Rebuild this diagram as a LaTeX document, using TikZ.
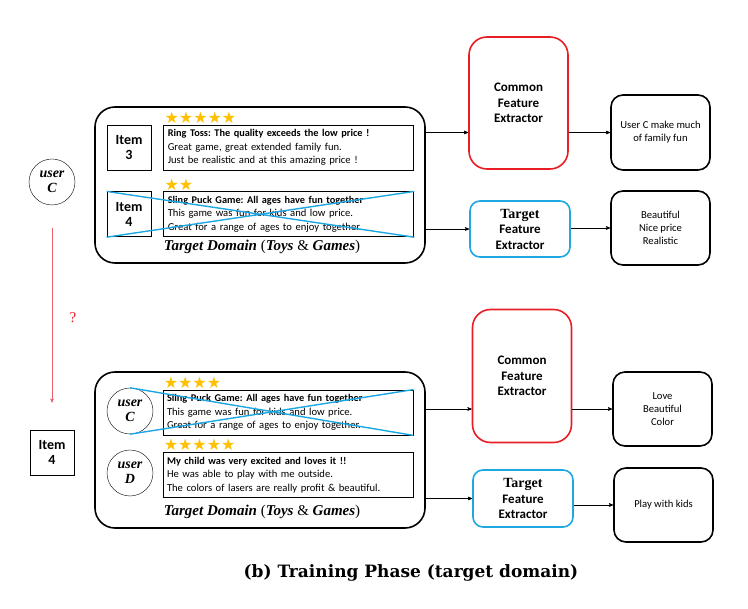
\documentclass[tikz,border=0pt]{standalone}
\usepackage{fontspec}
\newfontfamily\revfont{Carlito}
\newfontfamily\starfont{DejaVu Sans}
\newfontfamily\domfont{Liberation Serif}
\newfontfamily\capfont{DejaVu Serif}
\frenchspacing
\usetikzlibrary{positioning}
\usetikzlibrary{arrows}
\definecolor{starcol}{RGB}{255,192,0}
\definecolor{crosscol}{RGB}{28,166,226}
\definecolor{cfered}{RGB}{232,30,36}
\definecolor{tfeblue}{RGB}{30,168,224}
\definecolor{askred}{RGB}{225,30,40}
\tikzset{>=stealth'}
\tikzset{ed/.style={->,line width=0.6pt}}
\tikzset{domainbox/.style={draw,line width=1.6pt,rounded corners=20pt,minimum width=330pt,minimum height=156pt}}
\tikzset{domtext/.style={inner sep=0pt,font=\domfont\fontsize{15}{16}\selectfont}}
\tikzset{itembox/.style={draw,line width=0.8pt,minimum width=44pt,minimum height=45pt,inner sep=0pt,align=center,font=\revfont\bfseries\fontsize{14}{14.5}\selectfont}}
\tikzset{reviewbox/.style={draw,line width=0.8pt,minimum width=250pt,minimum height=45pt,text width=242pt,inner xsep=4pt,inner ysep=2pt,align=left,font=\revfont\fontsize{10.6}{13.5}\selectfont}}
\tikzset{starrow/.style={inner sep=0pt,text=starcol,font=\starfont\fontsize{16}{16}\selectfont}}
\tikzset{userc/.style={draw,circle,minimum size=46pt,inner sep=0pt,align=center,font=\domfont\bfseries\itshape\fontsize{14}{15}\selectfont}}
\tikzset{crossline/.style={draw=crosscol,line width=1.4pt}}
\tikzset{commonfe/.style={draw=cfered,line width=1.6pt,rounded corners=18pt,minimum width=99pt,minimum height=132pt,align=center,font=\revfont\bfseries\fontsize{13}{15.5}\selectfont}}
\tikzset{targetfe/.style={draw=tfeblue,line width=1.6pt,rounded corners=10pt,minimum width=100pt,minimum height=56pt,align=center,font=\revfont\bfseries\fontsize{13}{15.5}\selectfont}}
\tikzset{outbox/.style={draw,line width=1.6pt,rounded corners=12pt,minimum width=99pt,minimum height=74pt,align=center,font=\revfont\fontsize{10.6}{13.3}\selectfont}}
\newcommand{\tdom}{\textbf{\textit{Target Domain}} (\textbf{\textit{Toys}} \& \textbf{\textit{Games}})}
\newcommand{\tgt}{{\domfont\fontsize{14}{15}\selectfont Target}}

\begin{document}
\begin{tikzpicture}[x=1pt,y=-1pt]
\useasboundingbox (0,0) rectangle (748,609);

% top: target domain
\node[domainbox] (dom1) at (260,185) {};
\node[itembox] (item3) at (129,147.5) {Item\\3};
\node[reviewbox,right=12pt of item3] (rev3) {{\fontsize{10.3}{13.5}\selectfont\bfseries Ring Toss: The quality exceeds the low price !}\\Great game, great extended family fun.\\Just be realistic and at this amazing price !};
\node[itembox,below=21pt of item3] (item4) {Item\\4};
\node[reviewbox,right=12pt of item4] (rev4) {{\fontsize{10.3}{13.5}\selectfont\bfseries Sling Puck Game: All ages have fun together}\\This game was fun for kids and low price.\\Great for a range of ages to enjoy together.};
\node[starrow,above right=1pt and 1pt of rev3.north west] (st3) {★★★★★};
\node[starrow,above right=1pt and 1pt of rev4.north west] (st4) {★★};
\draw[crossline] (item4.north west) -- (rev4.south east);
\draw[crossline] (item4.south west) -- (rev4.north east);
\node[domtext] (dt1) at (262,247) {\tdom};

% left: user C and item 4
\node[userc] (uc) at (52,182) {user\\C};
\node[itembox] (it4) at (52,452.5) {Item\\4};
\draw[->,draw=askred!70,line width=0.5pt,shorten <=23pt,shorten >=27pt] (uc) -- node[right=14pt,text=askred,font=\domfont\fontsize{15}{15}\selectfont] (ask) {?} (it4);

% bottom: target domain
\node[domainbox] (dom2) at (260,450) {};
\node[userc] (ucb) at (130,411) {user\\C};
\node[userc] (udb) at (130,473) {user\\D};
\node[reviewbox] (revc) at (288,412.5) {{\fontsize{10.3}{13.5}\selectfont\bfseries Sling Puck Game: All ages have fun together}\\This game was fun for kids and low price.\\Great for a range of ages to enjoy together.};
\node[reviewbox] (revd) at (288,475) {{\fontsize{10.3}{13.5}\selectfont\bfseries My child was very excited and loves it !!}\\He was able to play with me outside.\\The colors of lasers are really profit \& beautiful.};
\node[starrow,above right=1pt and 1pt of revc.north west] (stc) {★★★★};
\node[starrow,above right=1pt and 1pt of revd.north west] (std) {★★★★★};
\draw[crossline] (ucb.north) -- (revc.south east);
\draw[crossline] (ucb.south) -- (revc.north east);
\node[domtext] (dt2) at (262,512) {\tdom};

% extractors, top
\node[commonfe] (cfe1) at (518.5,103) {Common\\Feature\\Extractor};
\node[targetfe] (tfe1) at (520,229) {\tgt\\Feature\\Extractor};
\node[outbox,minimum height=75pt] (o1) at (660.5,132.5) {User C make much\\of family fun};
\node[outbox] (o2) at (660.5,228) {Beautiful\\Nice price\\Realistic};
\draw[ed] (dom1.east |- o1) -- (cfe1.west |- o1);
\draw[ed] (cfe1.east |- o1) -- (o1.west);
\draw[ed] (dom1.east |- tfe1) -- (tfe1.west);
\draw[ed] (tfe1.east |- o2) -- (o2.west);

% extractors, bottom
\node[commonfe,minimum height=133pt] (cfe2) at (522,376) {Common\\Feature\\Extractor};
\node[targetfe,minimum height=57pt] (tfe2) at (523,498.5) {\tgt\\Feature\\Extractor};
\node[outbox] (o3) at (662.5,409) {Love\\Beautiful\\Color};
\node[outbox] (o4) at (663.5,505) {Play with kids};
\draw[ed] (dom2.east |- o3) -- (cfe2.west |- o3);
\draw[ed] (cfe2.east |- o3) -- (o3.west);
\draw[ed] (dom2.east |- tfe2) -- (tfe2.west);
\draw[ed] (tfe2.east |- o4) -- (o4.west);

\node[font=\capfont\bfseries\fontsize{17}{18}\selectfont] (cap) at (411,573) {(b) Training Phase (target domain)};
\end{tikzpicture}
\end{document}
